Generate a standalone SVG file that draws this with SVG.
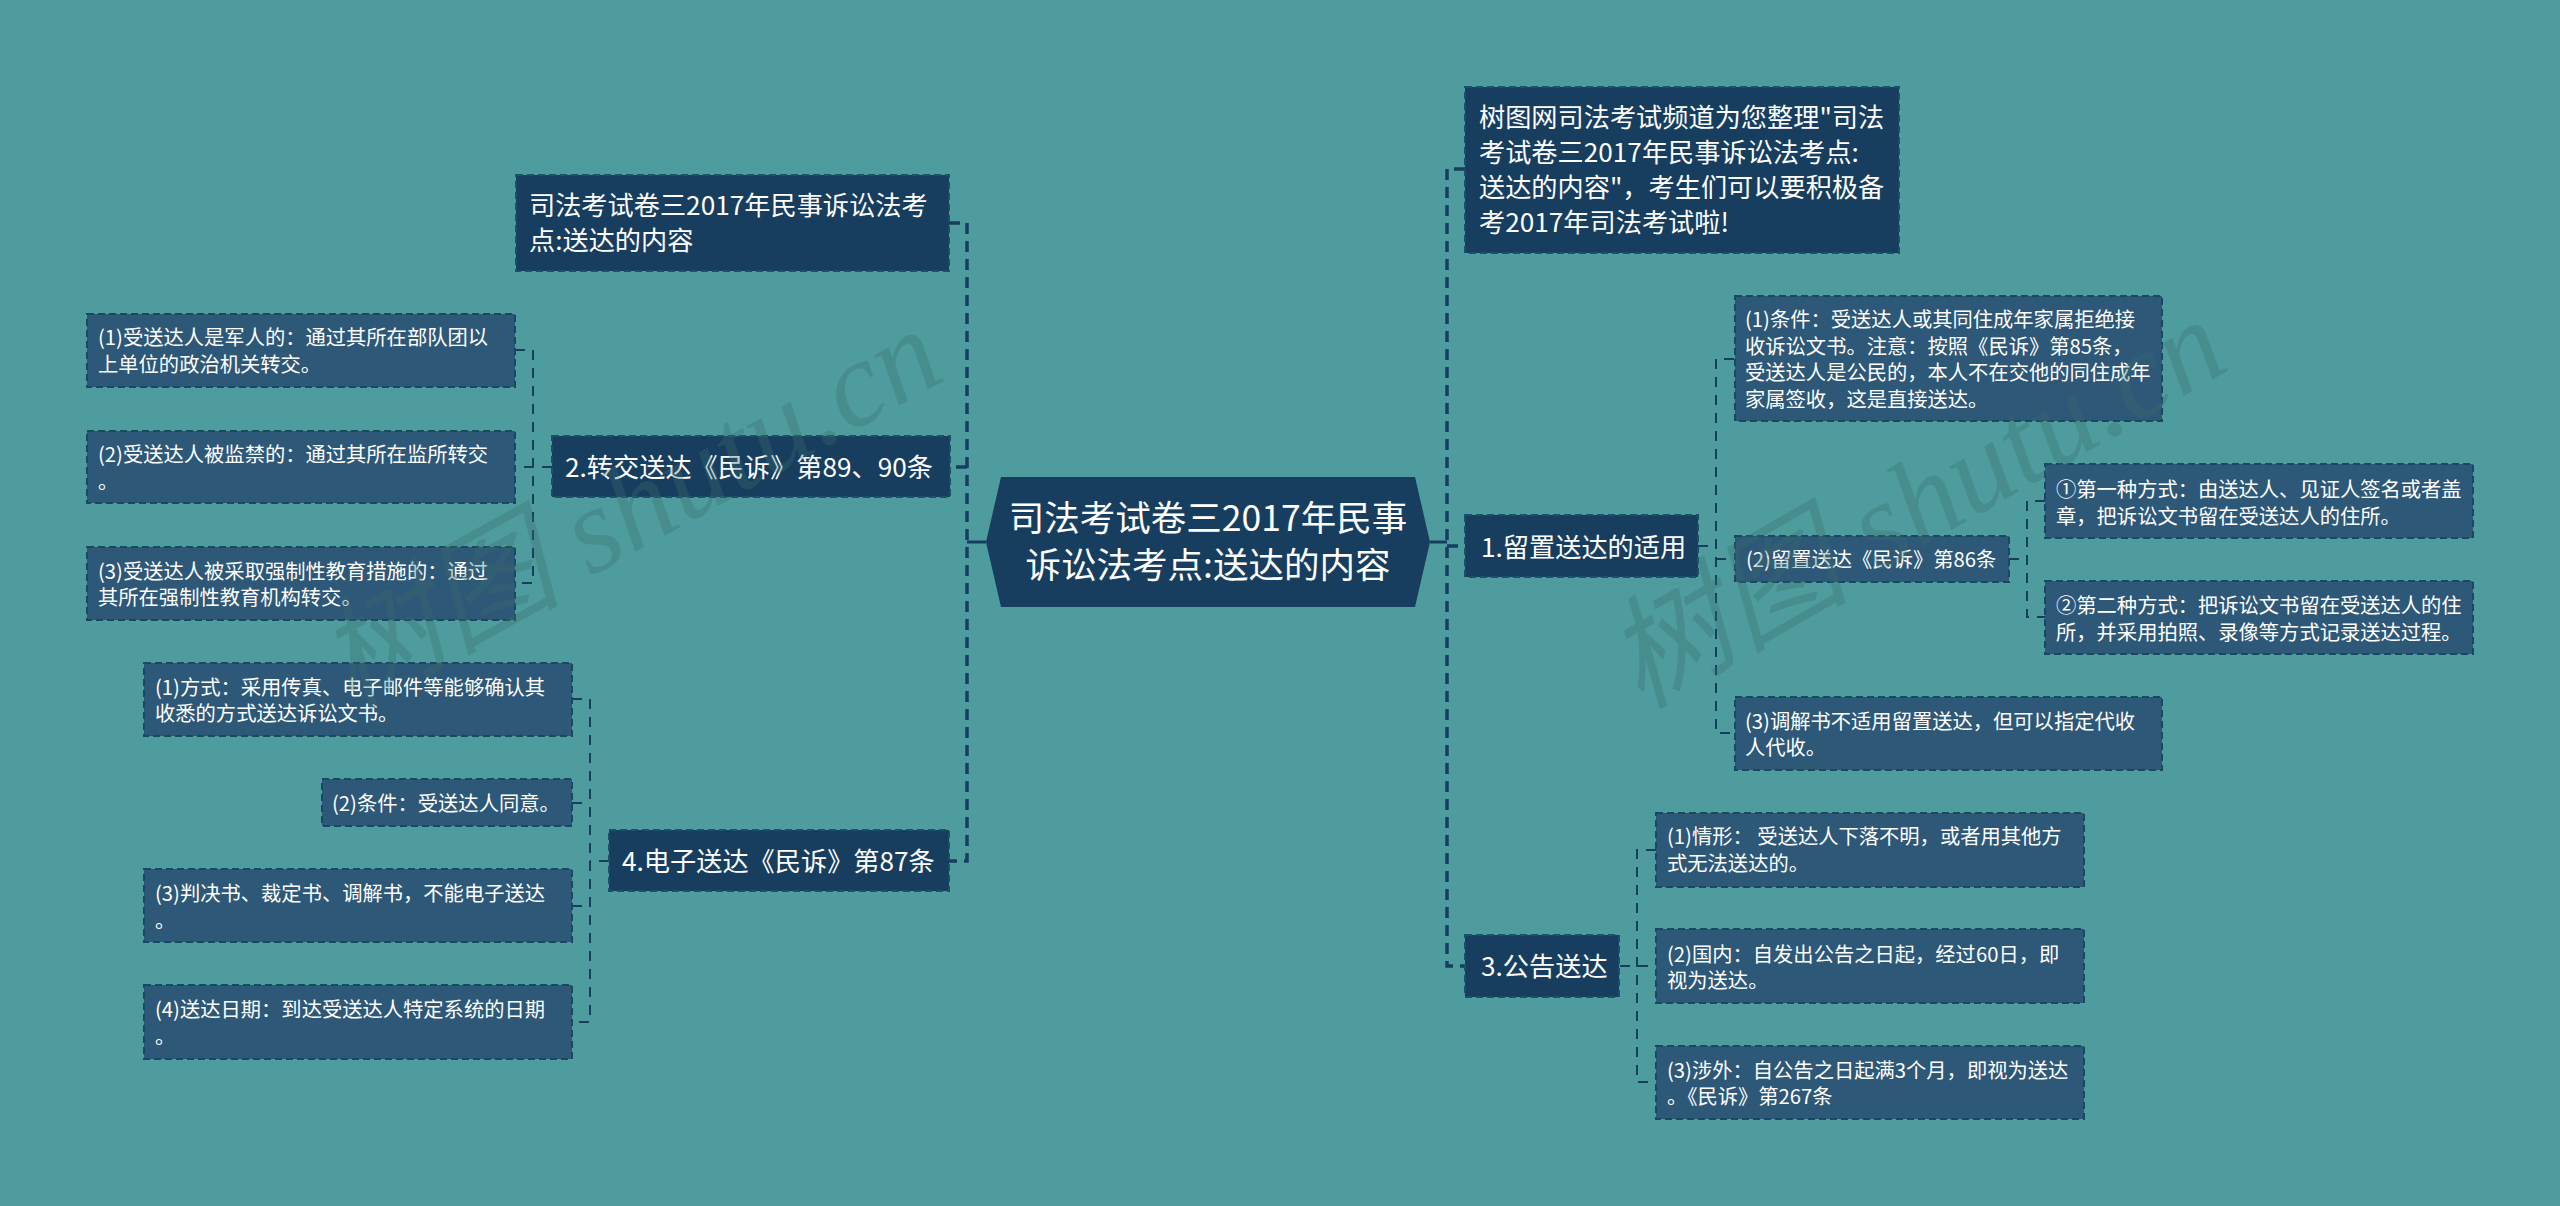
<svg xmlns="http://www.w3.org/2000/svg" width="2560" height="1206" viewBox="0 0 2560 1206">
<style>
text{font-family:"Noto Sans CJK SC","Noto Sans",sans-serif;fill:#fff}
.l0{font-size:35.5px}
.l1{font-size:26.2px}
.l2{font-size:20.3px}
.b1{fill:#173e5f;stroke:#1c5068;stroke-width:2;stroke-dasharray:7 4}
.b2{fill:#2e5878;stroke:#174a60;stroke-width:2;stroke-dasharray:7 4}
.c0{fill:none;stroke:#173e5f;stroke-width:3}
.c1{fill:none;stroke:#173e5f;stroke-width:3.5;stroke-dasharray:11 7}
.c2{fill:none;stroke:#173e5f;stroke-width:2;stroke-dasharray:10 8}
.wm{font-family:"Liberation Serif","Noto Sans CJK SC",serif;font-style:italic;font-size:122px;fill:#3c6e6e;fill-opacity:.32}
</style>
<rect width="2560" height="1206" fill="#4e9c9e"/>
<g id="connectors">
<path class="c0" d="M986 542H967M1430 542H1447"/>
<path class="c1" d="M949 223H967V861H949M967 467H950"/>
<path class="c1" d="M1465 169H1447V966H1465M1447 546H1465"/>
<path class="c2" d="M515 350H533V583H515M552 467H515"/>
<path class="c2" d="M572 699H590V1022H572M572 803H590M572 906H590M609 861H590"/>
<path class="c2" d="M1734 359H1716V733H1734M1698 546H1716M1716 559H1735"/>
<path class="c2" d="M2045 501H2027V617H2045M2009 559H2027"/>
<path class="c2" d="M1656 850H1637V1082H1656M1620 966H1656"/>
</g>
<g id="root"><polygon points="986,542 1001,477 1415,477 1430,542 1415,607 1001,607" fill="#173e5f"/>
<text class="l0" x="1208" y="531" text-anchor="middle">司法考试卷三2017年民事</text>
<text class="l0" x="1208" y="578" text-anchor="middle">诉讼法考点:送达的内容</text></g>
<g id="n-title"><rect class="b1" x="516" y="175" width="433" height="96"/>
<text class="l1" x="529" y="215">司法考试卷三2017年民事诉讼法考</text>
<text class="l1" x="529" y="250">点:送达的内容</text></g>
<g id="n-2"><rect class="b1" x="552" y="436" width="398" height="61"/>
<text class="l1" x="565" y="477">2.转交送达《民诉》第89、90条</text></g>
<g id="n-2-1"><rect class="b2" x="87" y="314" width="428" height="73"/>
<text class="l2" x="98" y="345">(1)受送达人是军人的&#xFF1A;通过其所在部队团以</text>
<text class="l2" x="98" y="372">上单位的政治机关转交。</text></g>
<g id="n-2-2"><rect class="b2" x="87" y="431" width="428" height="72"/>
<text class="l2" x="98" y="462">(2)受送达人被监禁的&#xFF1A;通过其所在监所转交</text>
<text class="l2" x="98" y="489">。</text></g>
<g id="n-2-3"><rect class="b2" x="87" y="547" width="428" height="73"/>
<text class="l2" x="98" y="579">(3)受送达人被采取强制性教育措施的&#xFF1A;通过</text>
<text class="l2" x="98" y="605">其所在强制性教育机构转交。</text></g>
<g id="n-4"><rect class="b1" x="609" y="830" width="340" height="61"/>
<text class="l1" x="622" y="871">4.电子送达《民诉》第87条</text></g>
<g id="n-4-1"><rect class="b2" x="144" y="663" width="428" height="73"/>
<text class="l2" x="155" y="695">(1)方式&#xFF1A;采用传真、电子邮件等能够确认其</text>
<text class="l2" x="155" y="721">收悉的方式送达诉讼文书。</text></g>
<g id="n-4-2"><rect class="b2" x="322" y="779" width="250" height="47"/>
<text class="l2" x="332" y="811">(2)条件&#xFF1A;受送达人同意。</text></g>
<g id="n-4-3"><rect class="b2" x="144" y="869" width="428" height="73"/>
<text class="l2" x="155" y="901">(3)判决书、裁定书、调解书&#xFF0C;不能电子送达</text>
<text class="l2" x="155" y="928">。</text></g>
<g id="n-4-4"><rect class="b2" x="144" y="985" width="428" height="74"/>
<text class="l2" x="155" y="1017">(4)送达日期&#xFF1A;到达受送达人特定系统的日期</text>
<text class="l2" x="155" y="1044">。</text></g>
<g id="n-intro"><rect class="b1" x="1465" y="87" width="434" height="166"/>
<text class="l1" x="1479" y="127">树图网司法考试频道为您整理"司法</text>
<text class="l1" x="1479" y="162">考试卷三2017年民事诉讼法考点:</text>
<text class="l1" x="1479" y="197">送达的内容"&#xFF0C;考生们可以要积极备</text>
<text class="l1" x="1479" y="232">考2017年司法考试啦!</text></g>
<g id="n-1"><rect class="b1" x="1465" y="515" width="233" height="62"/>
<text class="l1" x="1481" y="557">1.留置送达的适用</text></g>
<g id="n-1-1"><rect class="b2" x="1735" y="296" width="427" height="125"/>
<text class="l2" x="1745" y="327">(1)条件&#xFF1A;受送达人或其同住成年家属拒绝接</text>
<text class="l2" x="1745" y="354">收诉讼文书。注意&#xFF1A;按照《民诉》第85条&#xFF0C;</text>
<text class="l2" x="1745" y="380">受送达人是公民的&#xFF0C;本人不在交他的同住成年</text>
<text class="l2" x="1745" y="407">家属签收&#xFF0C;这是直接送达。</text></g>
<g id="n-1-2"><rect class="b2" x="1735" y="536" width="274" height="46"/>
<text class="l2" x="1746" y="567">(2)留置送达《民诉》第86条</text></g>
<g id="n-1-2-1"><rect class="b2" x="2045" y="464" width="428" height="74"/>
<text class="l2" x="2056" y="497">①第一种方式&#xFF1A;由送达人、见证人签名或者盖</text>
<text class="l2" x="2056" y="524">章&#xFF0C;把诉讼文书留在受送达人的住所。</text></g>
<g id="n-1-2-2"><rect class="b2" x="2045" y="581" width="428" height="73"/>
<text class="l2" x="2056" y="613">②第二种方式&#xFF1A;把诉讼文书留在受送达人的住</text>
<text class="l2" x="2056" y="640">所&#xFF0C;并采用拍照、录像等方式记录送达过程。</text></g>
<g id="n-1-3"><rect class="b2" x="1735" y="697" width="427" height="73"/>
<text class="l2" x="1745" y="729">(3)调解书不适用留置送达&#xFF0C;但可以指定代收</text>
<text class="l2" x="1745" y="755">人代收。</text></g>
<g id="n-3"><rect class="b1" x="1465" y="935" width="154" height="62"/>
<text class="l1" x="1481" y="976">3.公告送达</text></g>
<g id="n-3-1"><rect class="b2" x="1656" y="813" width="428" height="74"/>
<text class="l2" x="1667" y="844">(1)情形&#xFF1A; 受送达人下落不明&#xFF0C;或者用其他方</text>
<text class="l2" x="1667" y="871">式无法送达的。</text></g>
<g id="n-3-2"><rect class="b2" x="1656" y="929" width="428" height="74"/>
<text class="l2" x="1667" y="962">(2)国内&#xFF1A;自发出公告之日起&#xFF0C;经过60日&#xFF0C;即</text>
<text class="l2" x="1667" y="988">视为送达。</text></g>
<g id="n-3-3"><rect class="b2" x="1656" y="1046" width="428" height="73"/>
<text class="l2" x="1667" y="1078">(3)涉外&#xFF1A;自公告之日起满3个月&#xFF0C;即视为送达</text>
<text class="l2" x="1667" y="1104">。《民诉》第267条</text></g>
<g id="watermarks">
<text class="wm" transform="translate(350 710) rotate(-29)">树图 shutu.cn</text>
<text class="wm" transform="translate(1640 710) rotate(-30)">树图 shutu.cn</text>
</g>
</svg>
